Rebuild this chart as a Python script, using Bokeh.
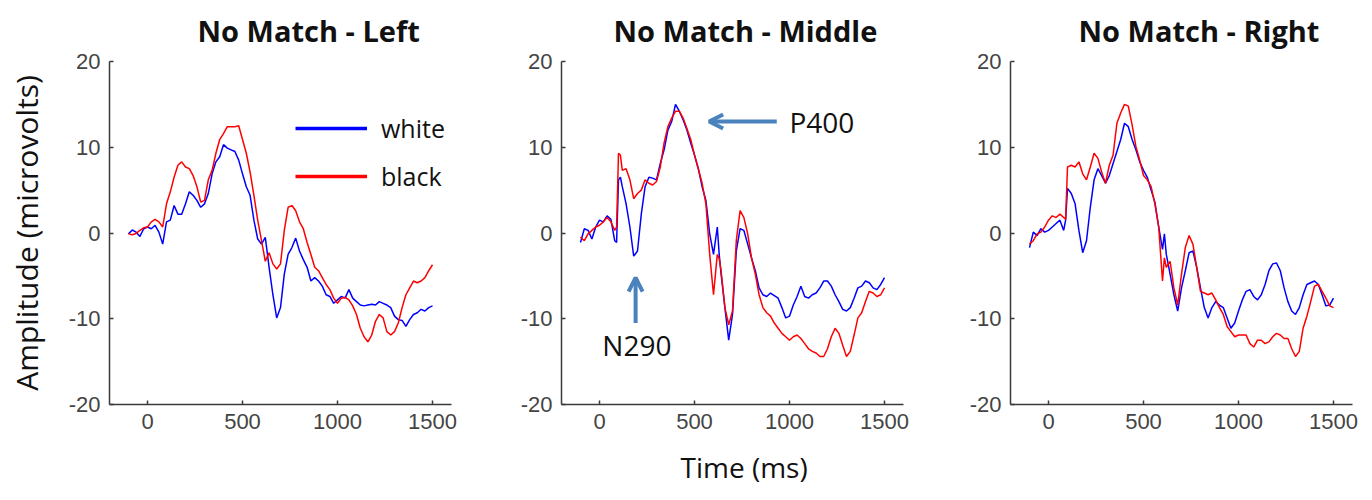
from bokeh.plotting import figure
from bokeh.layouts import row
from bokeh.models import (FixedTicker, Legend, LegendItem, Arrow, OpenHead, Label,
                          Range1d, Title)
from bokeh.embed import file_html
from bokeh.resources import INLINE

# ---------------- data (time in ms, amplitude in microvolts) ----------------
titles = ["No Match - Left", "No Match - Middle", "No Match - Right"]
series_names = ["white", "black"]
x_ticks = [0, 500, 1000, 1500]
y_ticks = [-20, -10, 0, 10, 20]
y_tick_labels = {-20: "-20", -10: "-10", 0: "0", 10: "10", 20: "20"}
x_title = "Time (ms)"
y_title = "Amplitude (microvolts)"

left_white = [(-100, -0.1), (-80, 0.35), (-60, 0.1), (-40, -0.4), (-20, 0.5), (0, 0.7), (20, 0.5), (40, 0.9), (60, 0.1), (80, -1.3),
              (100, 1.3), (120, 1.5), (140, 3.2), (160, 2.2), (180, 2.2), (200, 3.4), (220, 4.8), (240, 4.4), (260, 3.8), (280, 3.0),
              (300, 3.4), (320, 4.6), (340, 6.9), (360, 8.3), (380, 8.9), (400, 10.3), (420, 9.9), (440, 9.7), (460, 9.5), (480, 8.5),
              (500, 6.9), (520, 5.4), (540, 4.4), (560, 1.5), (580, -0.7), (600, -1.3), (620, -0.5), (640, -4.0), (660, -7.2), (680, -9.9),
              (700, -8.7), (720, -4.8), (740, -2.5), (760, -1.7), (780, -0.6), (800, -2.1), (820, -3.1), (840, -4.0), (860, -5.6), (880, -5.2),
              (900, -5.6), (920, -6.2), (940, -7.2), (960, -7.4), (980, -8.2), (1000, -7.8), (1020, -7.4), (1040, -7.6), (1060, -6.6), (1080, -7.6),
              (1100, -8.0), (1120, -8.4), (1140, -8.5), (1160, -8.4), (1180, -8.3), (1200, -8.4), (1220, -8.0), (1240, -8.2), (1260, -8.4), (1280, -8.7),
              (1300, -9.7), (1320, -10.1), (1340, -10.2), (1360, -10.9), (1380, -10.1), (1400, -9.5), (1420, -9.3), (1440, -8.9), (1460, -9.1), (1480, -8.7),
              (1500, -8.5)]
left_black = [(-100, -0.1), (-80, -0.2), (-60, -0.05), (-40, 0.3), (-20, 0.6), (0, 0.7), (20, 1.3), (40, 1.6), (60, 1.3), (80, 0.7),
              (100, 3.4), (120, 4.8), (140, 6.5), (160, 7.9), (180, 8.3), (200, 7.7), (220, 7.5), (240, 6.7), (260, 5.4), (280, 3.6),
              (300, 3.8), (320, 6.2), (340, 7.3), (360, 9.3), (380, 10.9), (400, 11.6), (420, 12.4), (440, 12.4), (460, 12.4), (480, 12.5),
              (500, 10.9), (520, 9.3), (540, 7.1), (560, 4.4), (580, 1.5), (600, -0.9), (620, -3.3), (640, -2.3), (660, -3.6), (680, -4.2),
              (700, -3.6), (720, 0.3), (740, 3.0), (760, 3.2), (780, 2.6), (800, 1.3), (820, 0.5), (840, -1.1), (860, -2.5), (880, -4.0),
              (900, -4.4), (920, -5.2), (940, -6.0), (960, -6.6), (980, -7.6), (1000, -8.2), (1020, -7.6), (1040, -7.5), (1060, -7.8), (1080, -8.5),
              (1100, -9.5), (1120, -11.1), (1140, -12.1), (1160, -12.7), (1180, -11.9), (1200, -10.3), (1220, -9.5), (1240, -9.9), (1260, -11.5), (1280, -11.9),
              (1300, -11.5), (1320, -10.5), (1340, -8.7), (1360, -7.2), (1380, -6.4), (1400, -5.6), (1420, -5.8), (1440, -5.6), (1460, -5.2), (1480, -4.4),
              (1500, -3.7)]

mid_white = [(-100, -1.1), (-80, 0.5), (-60, 0.3), (-40, -0.7), (-20, 0.7), (0, 1.5), (20, 1.3), (40, 2.0), (60, 1.6), (80, -0.9), (90, -1.1),
             (100, 6.2), (110, 6.5), (120, 5.4), (140, 3.4), (160, 0.7), (180, -2.7), (200, -2.1), (220, 2.2), (240, 5.4), (260, 6.5), (280, 6.4),
             (300, 6.2), (320, 8.1), (340, 9.7), (360, 12.0), (380, 13.0), (400, 15.0), (420, 14.2), (440, 13.2), (460, 12.0), (480, 10.5),
             (500, 9.1), (520, 7.5), (540, 5.4), (560, 3.8), (580, -0.1), (600, -2.5), (620, 0.7), (630, -2.5), (640, -4.8), (660, -8.7), (680, -12.5),
             (700, -9.5), (720, -2.1), (740, 0.5), (760, 0.3), (780, -1.3), (800, -2.9), (820, -4.4), (840, -6.4), (860, -7.2), (880, -7.4),
             (900, -7.0), (920, -7.3), (940, -7.6), (960, -8.7), (980, -9.9), (1000, -9.7), (1020, -8.4), (1040, -7.4), (1060, -6.2), (1080, -7.4),
             (1100, -7.6), (1120, -7.2), (1140, -7.0), (1160, -6.4), (1180, -5.6), (1200, -5.6), (1220, -6.2), (1240, -7.2), (1260, -8.0), (1280, -8.9),
             (1300, -9.1), (1320, -8.7), (1340, -7.6), (1360, -6.4), (1380, -6.2), (1400, -5.6), (1420, -5.8), (1440, -6.4), (1460, -6.6), (1480, -6.0),
             (1500, -5.2)]
mid_black = [(-100, -0.5), (-80, -0.9), (-60, -0.1), (-40, 0.3), (-20, 0.7), (0, 0.9), (20, 1.3), (40, 1.8), (60, 1.3), (80, 0.3), (90, 0.7),
             (100, 9.3), (110, 9.1), (120, 7.3), (140, 7.5), (160, 6.2), (180, 4.0), (200, 4.6), (220, 5.0), (240, 6.2), (260, 5.8), (280, 5.6),
             (300, 6.0), (320, 7.7), (340, 10.5), (360, 12.4), (380, 13.4), (400, 14.2), (420, 14.2), (440, 13.4), (460, 12.2), (480, 10.9),
             (500, 9.1), (520, 7.5), (540, 5.8), (560, 3.4), (580, -2.5), (600, -7.2), (620, -2.5), (630, -3.0), (640, -4.4), (660, -8.7), (680, -10.7),
             (700, -9.1), (720, -0.9), (740, 2.6), (760, 1.8), (780, -0.1), (800, -2.9), (820, -4.8), (840, -7.2), (860, -8.7), (880, -9.3),
             (900, -9.7), (920, -10.5), (940, -11.1), (960, -11.7), (980, -12.1), (1000, -12.5), (1020, -12.1), (1040, -11.9), (1060, -12.3), (1080, -12.9),
             (1100, -13.5), (1120, -13.8), (1140, -14.0), (1160, -14.4), (1180, -14.4), (1200, -13.5), (1220, -12.1), (1240, -11.1), (1260, -11.7), (1280, -13.1),
             (1300, -14.4), (1320, -13.8), (1340, -11.9), (1360, -9.9), (1380, -9.3), (1400, -8.0), (1420, -6.8), (1440, -7.0), (1460, -7.4), (1480, -7.2),
             (1500, -6.4)]

right_white = [(-100, -1.7), (-80, 0.1), (-60, -0.3), (-40, 0.5), (-20, 0.1), (0, 0.3), (20, 0.7), (40, 1.1), (60, 1.5), (80, 0.3), (90, 1.5),
               (100, 5.2), (120, 4.6), (140, 3.4), (160, 0.3), (180, -2.3), (200, -0.9), (220, 3.0), (240, 6.2), (260, 7.5), (280, 6.7),
               (300, 5.8), (320, 6.7), (340, 8.1), (360, 9.5), (380, 10.9), (400, 12.8), (420, 12.4), (440, 10.9), (460, 9.7), (480, 8.3),
               (500, 7.3), (520, 6.5), (540, 5.0), (560, 3.6), (580, 0.7), (600, -1.9), (610, -0.1), (620, -2.5), (640, -4.8), (660, -7.2), (680, -9.1),
               (700, -6.4), (720, -4.4), (740, -2.3), (760, -2.1), (780, -4.0), (800, -6.4), (820, -8.7), (840, -9.9), (860, -8.7), (880, -8.0),
               (900, -8.4), (920, -8.7), (940, -9.9), (960, -11.1), (980, -10.5), (1000, -9.1), (1020, -7.8), (1040, -6.8), (1060, -6.6), (1080, -7.4),
               (1100, -7.8), (1120, -7.2), (1140, -6.0), (1160, -4.4), (1180, -3.6), (1200, -3.5), (1220, -4.4), (1240, -6.4), (1260, -8.0), (1280, -9.1),
               (1300, -9.5), (1320, -8.7), (1340, -7.2), (1360, -6.0), (1380, -5.8), (1400, -5.6), (1420, -6.0), (1440, -7.2), (1460, -8.5), (1480, -8.4),
               (1500, -7.6)]
right_black = [(-100, -1.3), (-80, -0.9), (-60, -0.1), (-40, 0.1), (-20, 0.7), (0, 1.5), (20, 2.0), (40, 1.8), (60, 2.2), (80, 1.8), (90, 1.6),
               (100, 7.7), (120, 7.9), (140, 7.7), (160, 8.3), (180, 6.9), (200, 6.2), (220, 7.7), (240, 9.3), (260, 8.7), (280, 7.1),
               (300, 5.8), (320, 7.9), (340, 9.1), (360, 12.8), (380, 14.0), (400, 15.0), (420, 14.8), (440, 12.6), (460, 10.1), (480, 8.5),
               (500, 6.7), (520, 6.2), (540, 5.4), (560, 3.4), (580, 0.7), (600, -5.6), (610, -2.9), (620, -4.0), (640, -3.3), (660, -6.4), (680, -8.4),
               (700, -4.8), (720, -1.7), (740, -0.3), (760, -1.3), (780, -4.0), (800, -6.8), (820, -7.0), (840, -7.2), (860, -7.0), (880, -7.8),
               (900, -8.7), (920, -9.5), (940, -10.9), (960, -11.5), (980, -12.1), (1000, -11.9), (1020, -11.9), (1040, -11.9), (1060, -12.9), (1080, -13.3),
               (1100, -12.5), (1120, -12.5), (1140, -12.9), (1160, -12.7), (1180, -12.1), (1200, -11.7), (1220, -11.9), (1240, -12.3), (1260, -12.3), (1280, -13.5),
               (1300, -14.4), (1320, -13.8), (1340, -11.1), (1360, -9.7), (1380, -8.0), (1400, -6.2), (1420, -6.0), (1440, -6.8), (1460, -7.6), (1480, -8.5),
               (1500, -8.7)]

# annotations on the middle panel (data coordinates)
p400_arrow = (933, 577, 13.0)      # x_start, x_end, y
p400_label = (1000, 13.0)
n290_arrow = (190, -10.5, -5.2)    # x, y_start, y_end
n290_label = (197, -13.1)

WHITE_C = "#0000ff"
BLACK_C = "#ff0000"
ARROW_C = "#4a82bd"
TXT = "#111111"
AX = "#3a3a3a"

H = 500
TOP, BOTTOM = 61, 96
NAN = float("nan")


def make_panel(title, white, black, w, bl, br, title_off, ylabel=None):
    p = figure(width=w, height=H,
               x_range=Range1d(-200, 1600), y_range=Range1d(-20, 20),
               output_backend="svg", toolbar_location=None,
               min_border_left=bl, min_border_right=br,
               min_border_top=TOP, min_border_bottom=BOTTOM)
    p.outline_line_color = None
    p.grid.visible = False
    p.background_fill_color = "white"
    p.border_fill_color = "white"

    p.title.text = title
    p.title.align = "left"
    p.title.offset = title_off
    p.title.vertical_align = "top"
    p.title.text_font = "Open Sans"
    p.title.text_font_style = "bold"
    p.title.text_font_size = "29px"
    p.title.text_color = TXT
    p.title.standoff = 19

    p.xaxis.ticker = FixedTicker(ticks=x_ticks)
    p.yaxis.ticker = FixedTicker(ticks=y_ticks)
    p.yaxis.major_label_overrides = y_tick_labels
    for ax in (p.xaxis[0], p.yaxis[0]):
        ax.axis_line_color = AX
        ax.axis_line_width = 1.5
        ax.major_tick_line_color = AX
        ax.major_tick_line_width = 1.5
        ax.major_tick_in = 4
        ax.major_tick_out = 0
        ax.minor_tick_line_color = None
        ax.major_label_text_font = "Liberation Sans"
        ax.major_label_text_font_size = "22px"
        ax.major_label_text_color = "#444444"
        ax.major_label_standoff = 9
    if ylabel:
        p.yaxis.axis_label = ylabel
        p.yaxis.axis_label_text_font = "Open Sans"
        p.yaxis.axis_label_text_font_style = "normal"
        p.yaxis.axis_label_text_font_size = "30px"
        p.yaxis.axis_label_text_color = TXT
        p.yaxis.axis_label_standoff = 19

    p.line([t for t, _ in white], [v for _, v in white], line_color=WHITE_C, line_width=1.5)
    p.line([t for t, _ in black], [v for _, v in black], line_color=BLACK_C, line_width=1.5)
    return p


# widths: 109 + 342 + 60 | 50 + 342 + 57 | 50 + 342 + 16
p1 = make_panel(titles[0], left_white, left_black, 511, 109, 60, 88, ylabel=y_title)
p2 = make_panel(titles[1], mid_white, mid_black, 449, 50, 57, 52)
p3 = make_panel(titles[2], right_white, right_black, 408, 50, 16, 68)

# shared x-axis title below the middle panel
p2.add_layout(Title(text=x_title, align="left", offset=119, standoff=28,
                    text_font="Open Sans", text_font_style="normal",
                    text_font_size="28px", text_color=TXT), "below")

# legend (left panel) - NaN-data renderers carry the thicker key lines
lw = p1.line(x=[NAN, NAN], y=[NAN, NAN], line_color=WHITE_C, line_width=3.5)
lb = p1.line(x=[NAN, NAN], y=[NAN, NAN], line_color=BLACK_C, line_width=3.5)
legend = Legend(items=[LegendItem(label=series_names[0], renderers=[lw]),
                       LegendItem(label=series_names[1], renderers=[lb])],
                location=(186, 211), glyph_width=72, glyph_height=30,
                label_height=30, spacing=14, padding=0, margin=0,
                label_standoff=14, border_line_color=None,
                background_fill_alpha=0, label_text_font="Open Sans",
                label_text_font_size="25px", label_text_color=TXT)
p1.add_layout(legend)

# annotations (middle panel)
p2.add_layout(Arrow(end=OpenHead(line_color=ARROW_C, line_width=4, size=14),
                    x_start=p400_arrow[0], y_start=p400_arrow[2],
                    x_end=p400_arrow[1], y_end=p400_arrow[2],
                    line_color=ARROW_C, line_width=4))
p2.add_layout(Arrow(end=OpenHead(line_color=ARROW_C, line_width=4, size=14),
                    x_start=n290_arrow[0], y_start=n290_arrow[1],
                    x_end=n290_arrow[0], y_end=n290_arrow[2],
                    line_color=ARROW_C, line_width=4))
p2.add_layout(Label(x=p400_label[0], y=p400_label[1], text="P400",
                    text_baseline="middle", text_align="left",
                    text_font="Open Sans", text_font_size="28px", text_color=TXT))
p2.add_layout(Label(x=n290_label[0], y=n290_label[1], text="N290",
                    text_baseline="middle", text_align="center",
                    text_font="Open Sans", text_font_size="28px", text_color=TXT))

layout = row(p1, p2, p3)
open("out.html", "w").write(file_html(layout, INLINE))
